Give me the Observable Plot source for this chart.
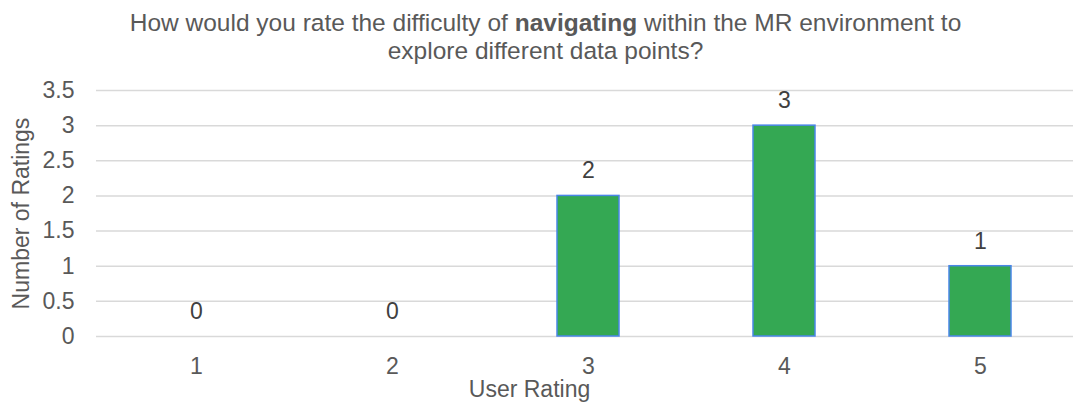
<!DOCTYPE html>
<html>
<head>
<meta charset="utf-8">
<script src="https://cdn.jsdelivr.net/npm/d3@7"></script>
<script src="https://cdn.jsdelivr.net/npm/@observablehq/plot@0.6"></script>
<style>
  html, body { margin: 0; padding: 0; background: #fff; overflow: hidden; }
  body { width: 1073px; height: 408px; font-family: "Liberation Sans", Arial, sans-serif; }
  #title { height: 74px; box-sizing: border-box; padding-top: 9px; padding-left: 18px; text-align: center; color: #595959; font-size: 24.5px; line-height: 28px; white-space: nowrap; }
  #title b { color: #595959; }
</style>
</head>
<body>
<div id="title">How would you rate the difficulty of <b>navigating</b> within the MR environment to<br>explore different data points?</div>
<div id="chart"></div>
<script>
const ratings = ["1", "2", "3", "4", "5"];
const counts = [0, 0, 2, 3, 1];
const yTicks = [0, 0.5, 1, 1.5, 2, 2.5, 3, 3.5];
const xTitle = "User Rating";
const yTitle = "Number of Ratings";

const data = ratings.map((r, i) => ({rating: r, count: counts[i]}));

const chart = Plot.plot({
  width: 1073,
  height: 334,
  marginLeft: 96,
  marginRight: -7,
  marginTop: 16,
  marginBottom: 72,
  style: {fontFamily: '"Liberation Sans", Arial, sans-serif', fontSize: "23px", color: "#595959", overflow: "hidden"},
  x: {domain: ratings, paddingInner: 0.685, paddingOuter: 0.3425, align: 0.5},
  y: {domain: [0, 3.5]},
  marks: [
    Plot.ruleY(yTicks, {stroke: "#d9d9d9", strokeWidth: 1.5}),
    Plot.barY(data, {x: "rating", y: "count", fill: "#34a853", stroke: "#4a86e8", strokeWidth: 1.5}),
    Plot.text(data, {x: "rating", y: "count", text: d => String(d.count), dy: -25, fill: "#404040", fontSize: 23}),
    Plot.axisX({tickSize: 0, tickPadding: 21, fontSize: 23, label: null}),
    Plot.text([xTitle], {text: d => d, frameAnchor: "bottom", dx: -59, dy: 60, fontSize: 23, fill: "#595959"}),
    Plot.axisY(yTicks, {tickSize: 0, tickPadding: 22, fontSize: 23, tickFormat: d => String(d), label: yTitle, labelAnchor: "center", labelArrow: "none", labelOffset: 84})
  ]
});
document.getElementById("chart").appendChild(chart);
</script>
</body>
</html>
